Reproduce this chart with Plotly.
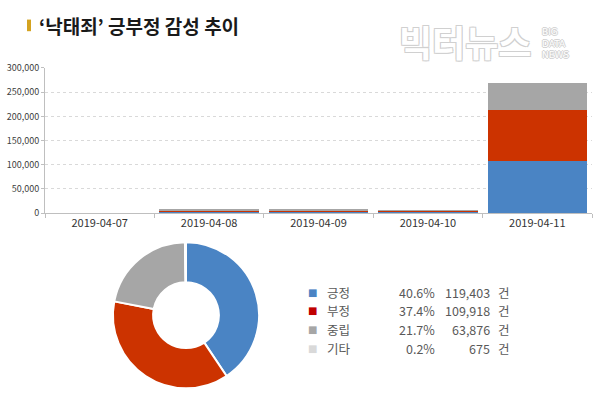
import plotly.graph_objects as go

dates = ["2019-04-07", "2019-04-08", "2019-04-09", "2019-04-10", "2019-04-11"]
pos_vals = [60, 3500, 3500, 3500, 108600]
neg_vals = [30, 2000, 2300, 1900, 104000]
neu_vals = [30, 3500, 1500, 800, 55400]

donut_labels = ["긍정", "부정", "중립", "기타"]
donut_vals = [119403, 109918, 63876, 675]

y_ticks = [0, 50000, 100000, 150000, 200000, 250000, 300000]

c_blue = "#4a84c4"
c_red = "#cc3300"
c_grey = "#a6a6a6"
c_light = "#d9d9d9"
donut_colors = [c_blue, c_red, c_grey, c_light]
legend_colors = ["#4a84c4", "#c00000", "#a6a6a6", "#d9d9d9"]

FONT = "Noto Sans CJK KR"
W, H = 600, 403

fig = go.Figure()
for name, vals, col in [("긍정", pos_vals, c_blue), ("부정", neg_vals, c_red), ("중립", neu_vals, c_grey)]:
    fig.add_trace(go.Bar(x=dates, y=vals, name=name, marker=dict(color=col, line=dict(width=0)),
                         xaxis="x", yaxis="y", showlegend=False, hoverinfo="skip"))

fig.add_trace(go.Pie(labels=donut_labels, values=donut_vals, hole=0.45, sort=False,
                     direction="clockwise", rotation=0,
                     marker=dict(colors=donut_colors, line=dict(color="white", width=2)),
                     textinfo="none", showlegend=False,
                     domain=dict(x=[110 / W, 262 / W], y=[1 - 394 / H, 1 - 243 / H])))

def px(x):
    return x / W

def py(y):
    return 1 - y / H

annotations = []
# title
annotations.append(dict(x=px(37), y=py(19), xref="paper", yref="paper", xanchor="left", yanchor="middle",
                        text="<b>‘낙태죄’ 긍부정 감성 추이</b>", showarrow=False,
                        font=dict(family=FONT, size=19, color="#1a1a1a")))
# watermark
wm_shadow = "-1px -1px 0 #d0d0d0, 1px -1px 0 #d0d0d0, -1px 1px 0 #d0d0d0, 1px 1px 0 #d0d0d0"
annotations.append(dict(x=px(465), y=py(35), xref="paper", yref="paper", xanchor="center", yanchor="middle",
                        text="<b>빅터뉴스</b>", showarrow=False,
                        font=dict(family=FONT, size=36, color="white", shadow=wm_shadow)))
annotations.append(dict(x=px(540), y=py(38), xref="paper", yref="paper", xanchor="left",
                        yanchor="middle", text="BIG<br>DATA<br>NEWS", showarrow=False, align="left",
                        font=dict(family="DejaVu Sans", size=9, color="white",
                                  shadow="-1px 0 0 #d0d0d0, 1px 0 0 #d0d0d0, 0 -1px 0 #d0d0d0, 0 1px 0 #d0d0d0")))

# custom legend table
total = sum(donut_vals)
row_y = [295, 314, 333, 353]
lg_font = dict(family=FONT, size=12.5, color="#595959")
for lab, v, col, ry in zip(donut_labels, donut_vals, legend_colors, row_y):
    annotations.append(dict(x=px(312), y=py(ry), xref="paper", yref="paper", xanchor="center", yanchor="middle",
                            text="■", showarrow=False, font=dict(family="DejaVu Sans", size=10, color=col)))
    annotations.append(dict(x=px(325), y=py(ry), xref="paper", yref="paper", xanchor="left", yanchor="middle",
                            text=lab, showarrow=False, font=lg_font))
    annotations.append(dict(x=px(437), y=py(ry), xref="paper", yref="paper", xanchor="right", yanchor="middle",
                            text=f"{v / total * 100:.1f}%", showarrow=False, font=lg_font))
    annotations.append(dict(x=px(492), y=py(ry), xref="paper", yref="paper", xanchor="right", yanchor="middle",
                            text=f"{v:,}", showarrow=False, font=lg_font))
    annotations.append(dict(x=px(496), y=py(ry), xref="paper", yref="paper", xanchor="left", yanchor="middle",
                            text="건", showarrow=False, font=lg_font))

shapes = [dict(type="rect", xref="paper", yref="paper", x0=px(27), x1=px(31), y0=py(25), y1=py(13),
               fillcolor="#d4a320", line=dict(width=0))]

fig.update_layout(
    width=W, height=H, margin=dict(l=0, r=0, t=0, b=0),
    paper_bgcolor="white", plot_bgcolor="white",
    barmode="stack", bargap=0.09,
    font=dict(family=FONT),
    xaxis=dict(domain=[px(45), px(592)], type="category", showline=True, linecolor="#bfbfbf", linewidth=1,
               ticks="outside", tickson="boundaries", ticklen=4, tickcolor="#bfbfbf",
               tickfont=dict(family=FONT, size=11, color="#333333"), showgrid=False),
    yaxis=dict(domain=[py(213), py(63)], range=[0, 300000], tickvals=y_ticks, tickformat=",",
               showline=True, linecolor="#bfbfbf", linewidth=1, ticks="outside", ticklen=3,
               tickcolor="#bfbfbf", tickfont=dict(family=FONT, size=9, color="#404040"),
               showgrid=True, gridcolor="#d9d9d9", griddash="dot", gridwidth=1, zeroline=False),
    annotations=annotations, shapes=shapes,
)

fig.write_html("out.html")
